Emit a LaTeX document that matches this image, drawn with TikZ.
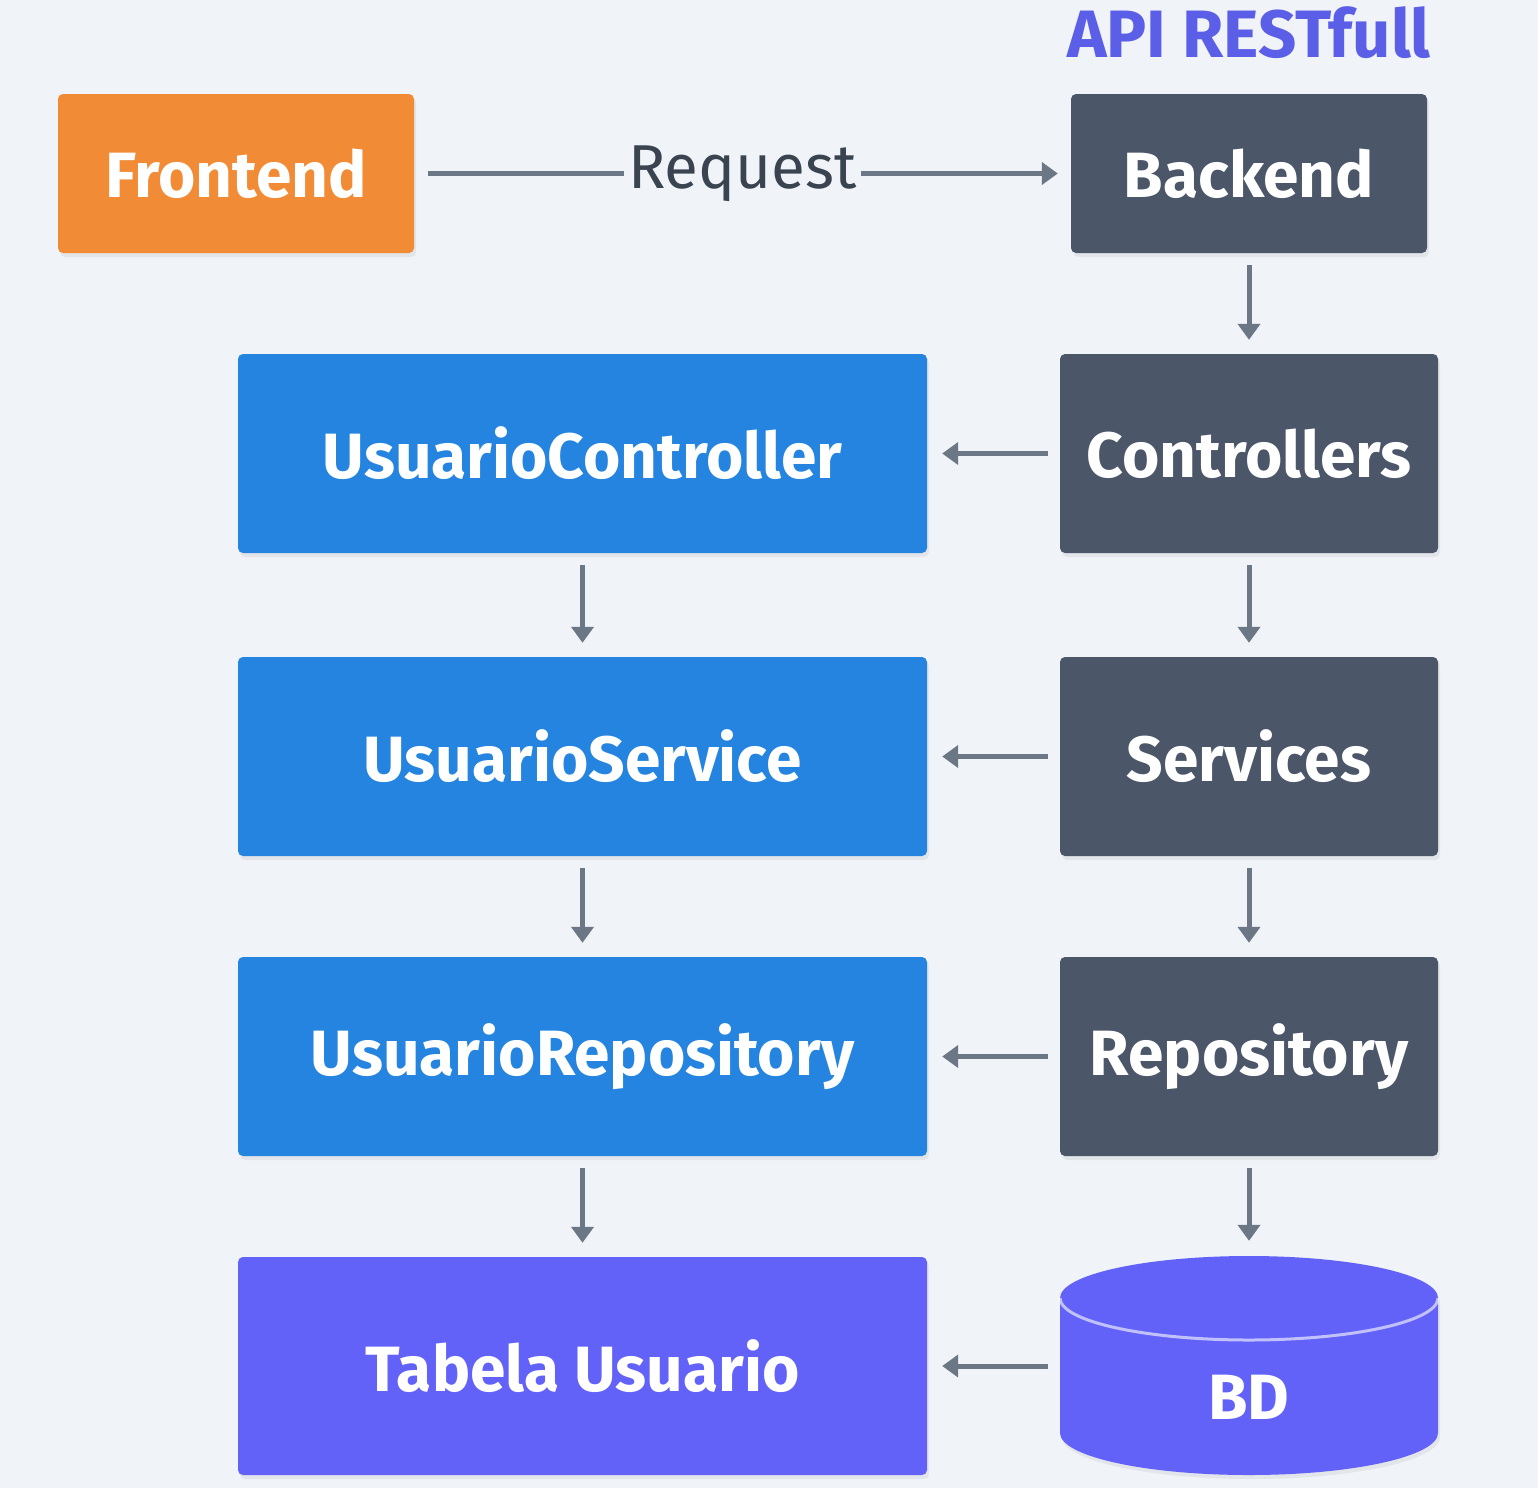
\documentclass[tikz,border=0pt]{standalone}
\usepackage{fontspec}
\setmainfont{Fira Sans}
\usetikzlibrary{arrows.meta,shadows}
\definecolor{bgc}{HTML}{F0F3F8}
\definecolor{orangec}{HTML}{F28B36}
\definecolor{slatec}{HTML}{4B5669}
\definecolor{bluec}{HTML}{2484DF}
\definecolor{purplec}{HTML}{6262F8}
\definecolor{titlec}{HTML}{5B5FE8}
\definecolor{arrowc}{HTML}{6B7785}
\definecolor{reqc}{HTML}{3A4350}
\tikzset{
  box/.style={rounded corners=5pt, inner sep=0pt, text=white,
    font=\fontsize{64}{68}\selectfont\bfseries,
    drop shadow={opacity=0.12, shadow xshift=2pt, shadow yshift=-4pt}},
  smallbox/.style={box, minimum width=356pt, minimum height=159pt},
  darkbox/.style={box, fill=slatec, minimum width=378pt, minimum height=199pt},
  bluebox/.style={box, fill=bluec, minimum width=689pt, minimum height=199pt},
  conn/.style={draw=arrowc, line width=5pt, -{Triangle[length=16pt,width=22pt]}},
  gapA/.style={shorten <=12pt, shorten >=14pt},
}
\begin{document}
\begin{tikzpicture}[x=1pt,y=-1pt]
\useasboundingbox (0,0) rectangle (1538,1488);
\fill[bgc] (0,0) rectangle (1538,1488);

\node[font=\fontsize{67}{70}\selectfont\bfseries, text=titlec] (title) at (1249,33) {API RESTfull};

\node[smallbox, fill=orangec] (front) at (236,173.5) {Frontend};
\node[smallbox, fill=slatec] (back) at (1249,173.5) {Backend};

\node[darkbox] (ctrl) at (1249,453.5) {Controllers};
\node[darkbox] (serv) at (1249,756.5) {Services};
\node[darkbox] (repo) at (1249,1056.5) {Repository};

\node[bluebox] (uctrl) at (582.5,453.5) {UsuarioController};
\node[bluebox] (userv) at (582.5,756.5) {UsuarioService};
\node[bluebox] (urepo) at (582.5,1056.5) {UsuarioRepository};
\node[box, fill=purplec, minimum width=689pt, minimum height=218pt] (tab) at (582.5,1366) {Tabela Usuario};

% cylinder BD
\fill[purplec, drop shadow={opacity=0.12, shadow xshift=2pt, shadow yshift=-4pt}]
  (1060,1298) -- (1060,1433) arc[start angle=180, end angle=360, x radius=189, y radius=-42]
  -- (1438,1298) arc[start angle=0, end angle=180, x radius=189, y radius=-42] -- cycle;
\draw[white, opacity=0.6, line width=3pt] (1060,1298) arc[start angle=180, end angle=360, x radius=189, y radius=-42];
\node[minimum width=378pt, minimum height=220pt, inner sep=0pt] (bd) at (1249,1365) {};
\node[text=white, font=\fontsize{64}{68}\selectfont\bfseries] (bdlabel) at (1249,1397) {BD};

% arrows
\draw[conn, shorten <=14pt, shorten >=13pt] (front.east) -- (back.west)
  node[midway, fill=bgc, text=reqc, inner sep=4pt, font=\fontsize{62}{66}\selectfont] (req) {Request};
\draw[conn, gapA] (back) -- (ctrl);
\draw[conn, gapA] (ctrl) -- (serv);
\draw[conn, gapA] (serv) -- (repo);
\draw[conn, gapA] (repo.south) -- (bd.north);
\draw[conn, gapA] (uctrl) -- (userv);
\draw[conn, gapA] (userv) -- (urepo);
\draw[conn, gapA] (urepo) -- (tab);
\draw[conn, shorten <=12pt, shorten >=15pt] (ctrl) -- (uctrl);
\draw[conn, shorten <=12pt, shorten >=15pt] (serv) -- (userv);
\draw[conn, shorten <=12pt, shorten >=15pt] (repo) -- (urepo);
\draw[conn, shorten <=12pt, shorten >=15pt] (bd.west |- tab.east) -- (tab.east);
\end{tikzpicture}
\end{document}
